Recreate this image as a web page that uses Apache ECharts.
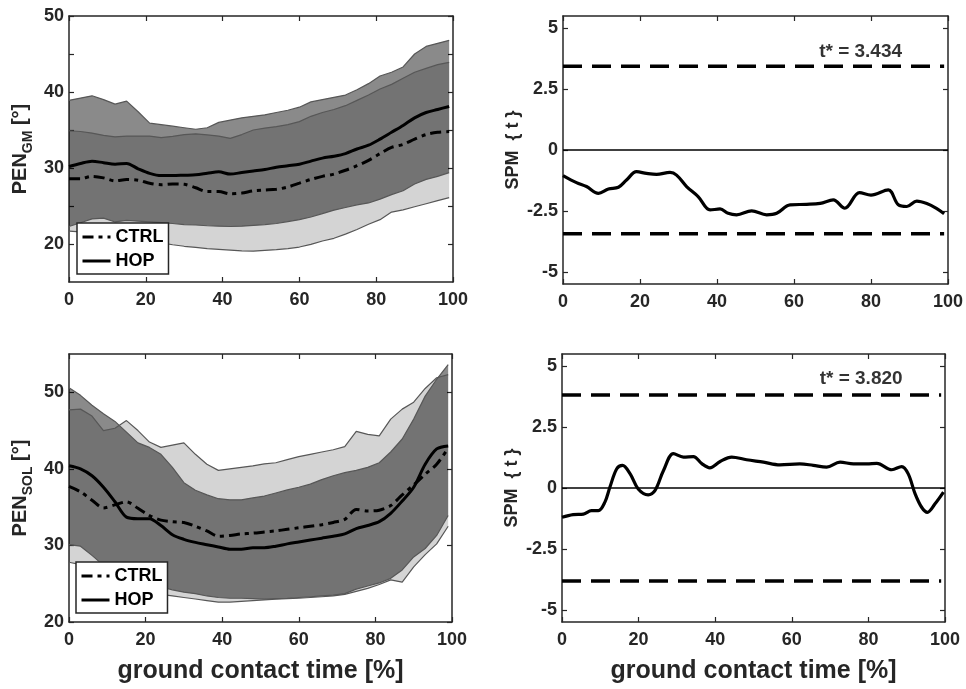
<!DOCTYPE html>
<html><head><meta charset="utf-8">
<script src="https://cdn.jsdelivr.net/npm/echarts@6/dist/echarts.min.js"></script>
<style>html,body{margin:0;padding:0;background:#fff}#c{width:966px;height:689px}</style>
</head><body><div id="c"></div>
<script>
// ---------- data ----------
const xs = [0,3,6,9,12,15,18,21,24,27,30,33,36,39,42,45,48,51,54,57,60,63,66,69,72,75,78,81,84,87,90,93,96,99];

// GM (top-left)
const gmHopMean = [30.2,30.6,30.9,30.7,30.5,30.6,29.9,29.3,29.0,29.0,29.05,29.1,29.3,29.5,29.2,29.4,29.6,29.8,30.1,30.3,30.5,30.9,31.3,31.55,31.9,32.5,33.0,33.8,34.7,35.6,36.6,37.3,37.7,38.1];
const gmCtrlMean = [28.6,28.6,28.9,28.7,28.3,28.5,28.4,28.0,27.8,27.9,27.85,27.4,26.9,26.9,26.6,26.7,27.0,27.1,27.2,27.5,28.0,28.5,28.9,29.2,29.7,30.3,31.0,31.9,32.7,33.1,33.8,34.4,34.7,34.8];
const gmHopUp = [38.9,39.2,39.5,39.0,38.4,38.8,37.4,35.9,35.7,35.5,35.3,35.1,35.3,36.0,36.3,36.6,36.8,37.0,37.3,37.6,38.0,38.7,39.0,39.3,39.6,40.3,41.1,42.1,42.6,43.3,45.0,46.0,46.4,46.8];
const gmHopLo = [22.3,22.8,23.3,23.4,22.9,23.1,23.0,22.9,22.8,22.7,22.55,22.5,22.4,22.35,22.3,22.35,22.45,22.55,22.7,22.95,23.2,23.55,24.0,24.45,24.8,25.15,25.4,25.9,26.5,27.0,27.9,28.5,28.9,29.4];
const gmCtrlUp = [34.9,34.8,34.6,34.3,34.1,34.2,34.2,34.2,34.0,34.15,34.4,34.5,34.35,34.2,33.9,34.4,35.0,35.25,35.45,35.7,36.1,36.8,37.3,37.7,38.2,38.9,39.6,40.4,41.0,41.8,42.6,43.1,43.6,43.9];
const gmCtrlLo = [21.7,21.6,21.5,21.35,21.2,21.0,20.75,20.45,20.15,19.9,19.7,19.55,19.4,19.3,19.2,19.1,19.05,19.15,19.25,19.4,19.6,19.95,20.4,20.75,21.3,21.9,22.6,23.2,24.2,24.5,24.9,25.3,25.7,26.1];

// SOL (bottom-left)
const solHopMean = [40.4,40.0,39.1,37.6,35.7,33.7,33.5,33.5,32.6,31.4,30.8,30.4,30.1,29.8,29.5,29.5,29.7,29.7,29.9,30.2,30.45,30.7,30.95,31.2,31.5,32.2,32.6,33.1,34.2,35.8,37.6,40.6,42.6,43.0];
const solCtrlMean = [37.7,37.0,35.9,34.9,35.3,35.7,34.85,33.9,33.3,33.1,33.0,32.5,31.9,31.2,31.3,31.5,31.6,31.75,31.9,32.1,32.3,32.5,32.7,33.0,33.4,34.7,34.5,34.6,35.2,36.6,37.9,39.3,40.6,42.7];
const solHopUp = [50.6,49.6,48.3,47.2,46.2,44.8,43.4,42.8,41.9,40.2,38.2,37.2,36.6,36.1,35.95,35.95,36.2,36.45,36.85,37.25,37.6,38.0,38.6,39.1,39.5,39.8,40.2,40.8,42.2,43.9,46.5,49.5,51.7,53.6];
const solHopLo = [30.1,29.9,28.7,27.4,26.6,26.0,25.5,25.0,24.6,24.2,23.9,23.7,23.4,23.2,23.1,23.1,23.05,23.0,23.05,23.1,23.2,23.3,23.4,23.5,23.7,24.3,24.7,25.1,25.7,26.8,28.5,29.6,31.3,33.9];
const solCtrlUp = [47.7,47.8,46.9,45.0,45.3,46.3,45.0,43.5,42.8,43.1,43.4,41.9,40.6,39.8,40.0,40.2,40.4,40.65,40.8,41.2,41.6,41.9,42.2,42.5,42.9,44.9,44.5,44.3,46.5,47.8,48.7,50.5,51.9,52.3];
const solCtrlLo = [27.8,27.5,26.6,25.8,25.2,24.8,24.3,23.9,23.6,23.4,23.2,23.0,22.8,22.6,22.6,22.7,22.8,22.9,23.0,23.05,23.1,23.2,23.3,23.4,23.6,24.0,24.4,24.9,25.5,25.2,27.2,28.8,30.2,32.5];

// SPM {t}
const spm1X = [0,3.5,6.1,9.2,11.8,14.4,16.5,19.1,21.7,24.3,27.8,29.5,32.1,35.1,38.2,40.8,42.9,45.1,49.0,52.9,55.5,59.0,63.3,66.8,70.2,73.2,77.0,80.0,84.5,87.1,89.3,91.9,94.5,97.0,99.0];
const spm1Y = [-1.05,-1.34,-1.5,-1.78,-1.6,-1.53,-1.23,-0.89,-0.96,-1.0,-0.92,-1.03,-1.5,-1.91,-2.46,-2.42,-2.6,-2.66,-2.5,-2.66,-2.6,-2.25,-2.23,-2.19,-2.05,-2.39,-1.75,-1.85,-1.64,-2.25,-2.32,-2.1,-2.2,-2.4,-2.62];
const spm2X = [0,2.9,5.6,7.7,9.5,11.2,12.5,14.3,15.8,17.8,19.9,22.5,24.3,26.5,29.1,31.7,34.3,36.5,38.6,41.3,44.3,48.2,52.6,56.9,62.1,65.6,69.1,72.6,76.1,79.6,82.2,86.1,88.7,90.4,92.2,93.9,95.4,97.4,99.6];
const spm2Y = [-1.2,-1.09,-1.07,-0.93,-0.93,-0.58,0.03,0.79,0.93,0.58,-0.04,-0.28,-0.1,0.72,1.41,1.27,1.29,1.0,0.83,1.09,1.27,1.16,1.06,0.95,0.99,0.93,0.86,1.06,0.99,0.99,1.01,0.75,0.88,0.58,-0.24,-0.79,-1.0,-0.65,-0.17];
const tStar1 = 3.434, tStar2 = 3.820;
const threshX = [0, 99];
const zeroX = [0, 100];
const tLabel1 = [77.3, 4.03];
const tLabel2 = [78.1, 4.5];

const gmTicks = [20,25,30,35,40,45,50], gmLabels = [20,30,40,50];
const solTicks = [20,30,40,50], solLabels = [20,30,40,50];
const spmTicks = [-5,-2.5,0,2.5,5];

// ---------- styling ----------
const FONT = '"Liberation Sans", Arial, Helvetica, sans-serif';
const TXT = '#262626';
const TICKFS = 18;

const grids = [
  {left:69, top:16, width:384, height:266},
  {left:563, top:16, width:385, height:268},
  {left:69, top:354, width:383, height:268},
  {left:562, top:354, width:383, height:268}
];

function xAx(gi, pos, showLabel, name){
  return {type:'value', gridIndex:gi, position:pos, min:0, max:100, interval:20,
    axisLine:{show:true, onZero:false, lineStyle:{color:TXT, width:1.5}},
    axisTick:{show:true, inside:true, length:5, lineStyle:{color:TXT, width:1.2}},
    axisLabel:{show:showLabel, margin:9, color:TXT, fontSize:TICKFS, fontWeight:'bold', fontFamily:FONT},
    splitLine:{show:false},
    name:name||'', nameLocation:'middle', nameGap:37,
    nameTextStyle:{color:TXT, fontSize:25, fontWeight:'bold', fontFamily:FONT}};
}
function yAx(gi, pos, min, max, ticks, labels, showLabel, name, nameGap){
  return {type:'value', gridIndex:gi, position:pos, min:min, max:max,
    axisLine:{show:true, onZero:false, lineStyle:{color:TXT, width:1.5}},
    axisTick:{show:true, inside:true, length:5, customValues:ticks, lineStyle:{color:TXT, width:1.2}},
    axisLabel:{show:showLabel, customValues:labels, margin:5, color:TXT, fontSize:TICKFS, fontWeight:'bold', fontFamily:FONT},
    splitLine:{show:false},
    name:name||'', nameLocation:'middle', nameRotate:90, nameGap:nameGap||30,
    nameTextStyle:{color:TXT, fontSize:18, fontWeight:'bold', fontFamily:FONT,
      rich:{
        a:{fontSize:20, fontWeight:'bold', color:TXT, fontFamily:FONT, lineHeight:30},
        b:{fontSize:14, fontWeight:'bold', color:TXT, fontFamily:FONT, lineHeight:14, verticalAlign:'bottom'}
      }}};
}

const xAxis = [
  xAx(0,'bottom',true), xAx(1,'bottom',true), xAx(2,'bottom',true,'ground contact time [%]'), xAx(3,'bottom',true,'ground contact time [%]'),
  xAx(0,'top',false), xAx(1,'top',false), xAx(2,'top',false), xAx(3,'top',false)
];
const yAxis = [
  yAx(0,'left',15,50,gmTicks,gmLabels,true,'{a|PEN}{b|GM}{a| [°]}',34),
  yAx(1,'left',-5.5,5.5,spmTicks,spmTicks,true,'SPM  { t }',41),
  yAx(2,'left',20,55,solTicks,solLabels,true,'{a|PEN}{b|SOL}{a| [°]}',34),
  yAx(3,'left',-5.5,5.5,spmTicks,spmTicks,true,'SPM  { t }',41),
  yAx(0,'right',15,50,gmTicks,gmLabels,false),
  yAx(1,'right',-5.5,5.5,spmTicks,spmTicks,false),
  yAx(2,'right',20,55,solTicks,solLabels,false),
  yAx(3,'right',-5.5,5.5,spmTicks,spmTicks,false)
];

const CTRL_FILL = 'rgba(0,0,0,0.17)';
const HOP_FILL = 'rgba(0,0,0,0.46)';
const EDGE = '#575757';

function pairs(xv, yv){ return xv.map((x,i)=>[x, yv[i]]); }

function band(g, lo, up, fill){
  return {type:'custom', xAxisIndex:g, yAxisIndex:g, silent:true, z:1, clip:true,
    data: xs.map((x,i)=>[x, lo[i], up[i]]), encode:{x:0, y:[1,2]},
    renderItem: function(params, api){
      if (params.dataIndex !== 0) return;
      const pts = [];
      for (let i=0;i<xs.length;i++) pts.push(api.coord([xs[i], up[i]]));
      for (let i=xs.length-1;i>=0;i--) pts.push(api.coord([xs[i], lo[i]]));
      return {type:'polygon', shape:{points:pts}, style:{fill:fill, stroke:null}};
    }};
}
function edge(g, vals){
  return {type:'line', xAxisIndex:g, yAxisIndex:g, data:pairs(xs, vals), symbol:'none', silent:true, z:2,
    lineStyle:{color:EDGE, width:1.2}};
}
function mean(g, vals, name){
  return {type:'line', name:name, xAxisIndex:g, yAxisIndex:g, data:pairs(xs, vals), symbol:'none', smooth:0.3, z:3, silent:true,
    itemStyle:{color:'#000'},
    lineStyle:{color:'#000', width:3, type: name==='CTRL' ? [11,5,4,5] : 'solid'}};
}
function panelSeries(g, cLo, cUp, hLo, hUp, cMean, hMean){
  return [band(g,cLo,cUp,CTRL_FILL), band(g,hLo,hUp,HOP_FILL),
    edge(g,cLo), edge(g,cUp), edge(g,hLo), edge(g,hUp),
    mean(g,cMean,'CTRL'), mean(g,hMean,'HOP')];
}
function spmSeries(g, sx, sy, t, labPos, txt){
  return [
    {type:'line', xAxisIndex:g, yAxisIndex:g, data:zeroX.map(x=>[x,0]), symbol:'none', silent:true, z:2, lineStyle:{color:'#000', width:1.3}},
    {type:'line', xAxisIndex:g, yAxisIndex:g, data:threshX.map(x=>[x,t]), symbol:'none', silent:true, z:2, lineStyle:{color:'#000', width:3.5, type:[19,10]}},
    {type:'line', xAxisIndex:g, yAxisIndex:g, data:threshX.map(x=>[x,-t]), symbol:'none', silent:true, z:2, lineStyle:{color:'#000', width:3.5, type:[19,10]}},
    {type:'line', xAxisIndex:g, yAxisIndex:g, data:pairs(sx, sy), symbol:'none', smooth:0.35, silent:true, z:3, lineStyle:{color:'#000', width:3.2}},
    {type:'scatter', xAxisIndex:g, yAxisIndex:g, data:[labPos], symbolSize:0, silent:true, z:4,
      label:{show:true, position:'inside', formatter:txt, color:'#000', fontSize:19, fontWeight:'bold', fontFamily:FONT}}
  ];
}

const legendBase = {data:['CTRL','HOP'], orient:'vertical', selectedMode:false,
  backgroundColor:'#fff', borderColor:'#262626', borderWidth:1.5, borderRadius:0,
  padding:[4,5,3,4], itemWidth:28, itemHeight:14, itemGap:4,
  itemStyle:{opacity:0, borderWidth:0},
  lineStyle:{color:'#000', width:3},
  textStyle:{color:'#000', fontSize:18, fontWeight:'bold', fontFamily:FONT, lineHeight:20}};

const option = {
  animation:false,
  backgroundColor:'#fff',
  grid:grids,
  xAxis:xAxis,
  yAxis:yAxis,
  legend:[Object.assign({left:77, top:223}, legendBase), Object.assign({left:76, top:562}, legendBase)],
  series:[].concat(
    panelSeries(0, gmCtrlLo, gmCtrlUp, gmHopLo, gmHopUp, gmCtrlMean, gmHopMean),
    spmSeries(1, spm1X, spm1Y, tStar1, tLabel1, 't* = ' + tStar1.toFixed(3)),
    panelSeries(2, solCtrlLo, solCtrlUp, solHopLo, solHopUp, solCtrlMean, solHopMean),
    spmSeries(3, spm2X, spm2Y, tStar2, tLabel2, 't* = ' + tStar2.toFixed(3))
  )
};
const chart = echarts.init(document.getElementById('c'));
chart.setOption(option);
</script>
</body></html>
